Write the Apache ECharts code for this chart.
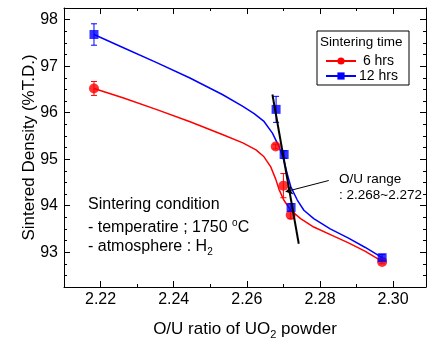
<!DOCTYPE html>
<html><head><meta charset="utf-8">
<script src="https://cdn.jsdelivr.net/npm/echarts@6/dist/echarts.min.js"></script>
<style>html,body{margin:0;padding:0;background:#fff}#c{width:427px;height:339px}</style>
</head><body><div id="c"></div>
<script>
// ---- data ----
const xTickLabels = [2.22, 2.24, 2.26, 2.28, 2.30];
const yTickLabels = [93, 94, 95, 96, 97, 98];
// measured points [O/U, density, error]
const pts6h  = [[2.2182, 96.52, 0.15], [2.2679, 95.27, 0.05], [2.2700, 94.43, 0.26], [2.2720, 93.80, 0.08], [2.2970, 92.79, 0.04]];
const pts12h = [[2.2182, 97.68, 0.23], [2.2680, 96.07, 0.28], [2.2702, 95.10, 0.08], [2.2721, 93.96, 0.08], [2.2970, 92.88, 0.07]];
// fitted curves
const fit6h = [[2.2182, 96.52], [2.2261, 96.32], [2.2352, 96.07], [2.2443, 95.81], [2.2533, 95.53], [2.2589, 95.35], [2.2625, 95.20], [2.2647, 95.05], [2.2665, 94.84], [2.2679, 94.57], [2.2688, 94.35], [2.2701, 94.12], [2.2720, 93.90], [2.2747, 93.72], [2.2783, 93.54], [2.2833, 93.36], [2.2878, 93.20], [2.2923, 93.02], [2.2970, 92.80]];
const fit12h = [[2.2182, 97.68], [2.2261, 97.40], [2.2352, 97.08], [2.2443, 96.75], [2.2533, 96.39], [2.2588, 96.14], [2.2620, 95.98], [2.2647, 95.81], [2.2670, 95.56], [2.2688, 95.27], [2.2701, 94.98], [2.2710, 94.70], [2.2720, 94.41], [2.2738, 94.12], [2.2756, 93.90], [2.2783, 93.72], [2.2828, 93.50], [2.2878, 93.30], [2.2924, 93.10], [2.2970, 92.88]];
const rangeLine = [[2.2670, 96.39], [2.2742, 93.18]];
const arrowFrom = [2.2824, 94.54];
const arrowTo = [2.2706, 94.30];

const FONT = 'Liberation Sans, Arial, sans-serif';
const X_MIN = 2.21, X_MAX = 2.309, Y_MIN = 92.25, Y_MAX = 98.25;

function xAx(pos, major, labels) {
  return {
    type: 'value', position: pos, min: X_MIN, max: X_MAX, interval: 0.01,
    axisLine: { show: !major, onZero: false, lineStyle: { color: '#000', width: 1 } },
    axisTick: major ? { inside: true, length: 6, customValues: xTickLabels, lineStyle: { color: '#000' } }
                    : { inside: true, length: 3, lineStyle: { color: '#000' } },
    axisLabel: labels ? { customValues: xTickLabels, formatter: v => v.toFixed(2), color: '#000', fontSize: 16, fontFamily: FONT, margin: 5 } : { show: false },
    splitLine: { show: false }
  };
}
function yAx(pos, major, labels) {
  return {
    type: 'value', position: pos, min: Y_MIN, max: Y_MAX, interval: 0.25,
    axisLine: { show: !major, onZero: false, lineStyle: { color: '#000', width: 1 } },
    axisTick: major ? { inside: true, length: 6, customValues: yTickLabels, lineStyle: { color: '#000' } }
                    : { inside: true, length: 3, lineStyle: { color: '#000' } },
    axisLabel: labels ? { customValues: yTickLabels, formatter: v => String(v), color: '#000', fontSize: 16, fontFamily: FONT, margin: 6 } : { show: false },
    splitLine: { show: false }
  };
}

const xb = xAx('bottom', false, true);
xb.name = 'O/U ratio of UO{sub|2} powder';
xb.nameLocation = 'middle';
xb.nameGap = 31;
xb.nameMoveOverlap = false;
xb.nameTextStyle = { color: '#000', fontSize: 17, fontFamily: FONT, rich: { sub: { fontSize: 11, fontFamily: FONT, color: '#000', padding: [11, 0, 0, 0] } } };
const yl = yAx('left', false, true);
yl.name = 'Sintered Density (%T.D.)';
yl.nameLocation = 'middle';
yl.nameGap = 26;
yl.nameMoveOverlap = false;
yl.nameTextStyle = { color: '#000', fontSize: 17, fontFamily: FONT };

function errSeries(data, color) {
  return {
    type: 'custom', data: data, z: 3,
    renderItem: function (params, api) {
      const x = api.value(0), y = api.value(1), e = api.value(2);
      const top = api.coord([x, y + e]);
      const bot = api.coord([x, y - e]);
      const st = { stroke: color, lineWidth: 1 };
      return { type: 'group', children: [
        { type: 'line', shape: { x1: top[0], y1: top[1], x2: bot[0], y2: bot[1] }, style: st },
        { type: 'line', shape: { x1: top[0] - 3, y1: top[1], x2: top[0] + 3, y2: top[1] }, style: st },
        { type: 'line', shape: { x1: bot[0] - 3, y1: bot[1], x2: bot[0] + 3, y2: bot[1] }, style: st }
      ] };
    }
  };
}

const chart = echarts.init(document.getElementById('c'));
chart.setOption({
  animation: false,
  grid: { left: 64, right: 1, top: 8, bottom: 52, containLabel: false, outerBoundsMode: 'none' },
  xAxis: [xb, xAx('bottom', true, false), xAx('top', false, false), xAx('top', true, false)],
  yAxis: [yl, yAx('left', true, false), yAx('right', false, false), yAx('right', true, false)],
  legend: {
    data: ['6 hrs', '12 hrs'], orient: 'vertical', left: 320, top: 49,
    itemWidth: 30, itemHeight: 9, itemGap: 1,
    formatter: n => n === '6 hrs' ? ' 6 hrs' : n,
    textStyle: { color: '#000', fontSize: 14, fontFamily: FONT, padding: [0, 0, 0, -2] }
  },
  graphic: [
    { type: 'rect', shape: { x: 317, y: 31, width: 92, height: 54 }, style: { fill: '#fff', stroke: '#000', lineWidth: 1 }, z: -1 },
    { type: 'text', x: 320, y: 42, style: { text: 'Sintering time', font: '13.5px ' + FONT, fill: '#000', textVerticalAlign: 'middle' } },
    { type: 'text', x: 88, y: 205, style: { text: 'Sintering condition', font: '16px ' + FONT, fill: '#000', textVerticalAlign: 'middle' } },
    { type: 'text', x: 88, y: 228, style: { text: '{n|- temperatire ; 1750 }{sup|o}{n|C}', textVerticalAlign: 'middle',
        rich: { n: { fontSize: 16, fontFamily: FONT, fill: '#000', lineHeight: 18 }, sup: { fontSize: 10, fontFamily: FONT, fill: '#000', padding: [0, 0, 10, 0] } } } },
    { type: 'text', x: 88, y: 247, style: { text: '{n|- atmosphere : H}{sub|2}', textVerticalAlign: 'middle',
        rich: { n: { fontSize: 16, fontFamily: FONT, fill: '#000', lineHeight: 18 }, sub: { fontSize: 10, fontFamily: FONT, fill: '#000', padding: [10, 0, 0, 0] } } } },
    { type: 'text', x: 339, y: 179, style: { text: 'O/U range', font: '13.5px ' + FONT, fill: '#000', textVerticalAlign: 'middle' } },
    { type: 'text', x: 339, y: 195, style: { text: ': 2.268~2.272', font: '13.5px ' + FONT, fill: '#000', textVerticalAlign: 'middle' } }
  ],
  series: [
    { name: '6 hrs', type: 'line', data: fit6h, smooth: false, showSymbol: false, symbol: 'circle', symbolSize: 8,
      lineStyle: { color: '#ff0000', width: 1.5 }, itemStyle: { color: '#ff0000' }, z: 2 },
    { name: '12 hrs', type: 'line', data: fit12h, smooth: false, showSymbol: false, symbol: 'rect', symbolSize: 8,
      lineStyle: { color: '#0000ff', width: 1.5 }, itemStyle: { color: '#0000ff' }, z: 2 },
    errSeries(pts6h, '#ff0000'),
    errSeries(pts12h, '#0000ff'),
    { name: 'p6', type: 'scatter', data: pts6h.map(p => [p[0], p[1]]), symbol: 'circle', symbolSize: 10, itemStyle: { color: '#ff0000' }, z: 4 },
    { name: 'p12', type: 'scatter', data: pts12h.map(p => [p[0], p[1]]), symbol: 'rect', symbolSize: 9, itemStyle: { color: '#0000ff' }, z: 4 },
    { name: 'range', type: 'line', data: rangeLine, showSymbol: false, symbol: 'none', lineStyle: { color: '#000', width: 2 }, z: 6,
      markLine: { silent: true, symbol: ['none', 'arrow'], symbolSize: 7, label: { show: false },
        lineStyle: { color: '#000', width: 1, type: 'solid' },
        data: [[{ coord: arrowFrom }, { coord: arrowTo }]] } }
  ]
});
</script></body></html>
